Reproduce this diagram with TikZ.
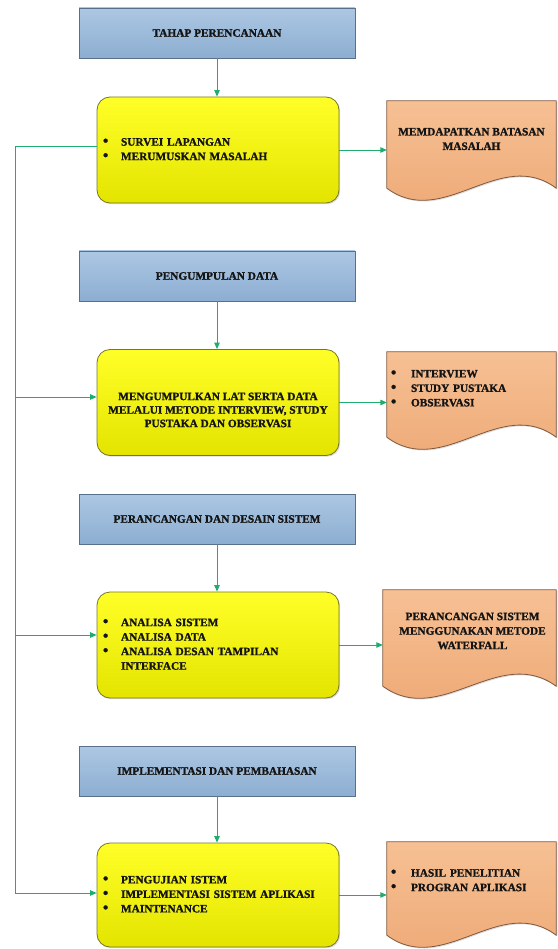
\documentclass[tikz,border=0pt]{standalone}
\usepackage{fontspec}
\setmainfont{Liberation Serif}[BoldFeatures={FakeBold=1.3}]
\usetikzlibrary{arrows.meta,calc,shadows}
\definecolor{conn}{RGB}{32,172,108}
\definecolor{txt}{RGB}{20,20,20}
\definecolor{bluetop}{RGB}{172,199,227}
\definecolor{bluebot}{RGB}{141,174,209}
\definecolor{blueline}{RGB}{88,112,138}
\definecolor{yeltop}{RGB}{255,255,40}
\definecolor{yelbot}{RGB}{228,228,0}
\definecolor{yelline}{RGB}{118,118,40}
\definecolor{ortop}{RGB}{246,192,148}
\definecolor{orbot}{RGB}{237,166,114}
\definecolor{orline}{RGB}{130,88,60}
\newcommand\blist[2]{\begin{tabular}{@{}p{#1}@{}l@{}}#2\end{tabular}}
\newcommand\bul{{\fontsize{15}{14.5}\selectfont\textbullet}}
\newcommand\docoutline[1]{%
  \draw[docshape] (#1.north west) -- (#1.north east) -- (#1.south east)
    .. controls ($(#1.south east)!0.333!(#1.south west)+(0,-42)$)
    and ($(#1.south east)!0.667!(#1.south west)+(0,42)$) .. (#1.south west) -- cycle;}
\tikzset{
  x=1pt, y=-1pt,
  fnt/.style={font=\bfseries\fontsize{11.3}{14.5}\selectfont, text=txt},
  shade/.style={drop shadow={shadow xshift=1.2pt, shadow yshift=-1.2pt, opacity=0.28}},
  phase/.style={fnt, draw=blueline, line width=0.8pt, top color=bluetop, bottom color=bluebot,
    minimum width=276pt, minimum height=50pt, inner sep=0pt, shade},
  activity/.style={fnt, draw=yelline, line width=0.8pt, rounded corners=13pt,
    top color=yeltop, bottom color=yelbot, minimum width=242pt, minimum height=106pt,
    text width=230pt, inner xsep=6pt, inner ysep=0pt, align=left, shade},
  docbox/.style={draw=none, minimum width=169pt, inner sep=0pt},
  docshape/.style={draw=orline, line width=0.8pt, top color=ortop, bottom color=orbot, shade},
  doctext/.style={fnt, inner sep=0pt, align=center},
  line/.style={draw=conn, line width=0.9pt},
  arrow/.style={line, -{Triangle[length=6.5pt,width=5.5pt]}}
}
\begin{document}
\begin{tikzpicture}
\useasboundingbox (0,0) rectangle (557,949);

% phase boxes
\node[phase] (b1) at (217,33) {TAHAP PERENCANAAN};
\node[phase] (b2) at (217,276) {PENGUMPULAN DATA};
\node[phase] (b3) at (217,519) {PERANCANGAN DAN DESAIN SISTEM};
\node[phase] (b4) at (217,771) {IMPLEMENTASI DAN PEMBAHASAN};

% activity boxes
\node[activity] (y1) at (218,150) {\blist{18pt}{\bul & SURVEI LAPANGAN\\ \bul & MERUMUSKAN MASALAH}};
\node[activity] (y2) at (218,402.5) {};
\node[fnt, align=center, inner sep=0pt, font=\bfseries\fontsize{11.3}{13.5}\selectfont] (y2t) at ([yshift=-7.5pt]y2.center)
  {MENGUMPULKAN LAT SERTA DATA\\ MELALUI METODE INTERVIEW, STUDY\\ PUSTAKA DAN OBSERVASI};
\node[activity] (y3) at (218,645) {\blist{18pt}{\bul & ANALISA SISTEM\\ \bul & ANALISA DATA\\ \bul & ANALISA DESAN TAMPILAN\\ & INTERFACE}};
\node[activity, minimum height=104pt] (y4) at (218,895) {\blist{18pt}{\bul & PENGUJIAN ISTEM\\ \bul & IMPLEMENTASI SISTEM APLIKASI\\ \bul & MAINTENANCE}};

% document shapes
\node[docbox, minimum height=87pt] (d1) at (471.5,144.5) {};
\node[docbox, minimum height=85pt] (d2) at (471.5,394.5) {};
\node[docbox, minimum height=96pt, minimum width=173pt] (d3) at (469.5,638) {};
\node[docbox, minimum height=93pt] (d4) at (471.5,888.5) {};
\docoutline{d1}
\docoutline{d2}
\docoutline{d3}
\docoutline{d4}
\node[doctext] (d1t) at ([yshift=5.5pt]d1.center) {MEMDAPATKAN BATASAN\\ MASALAH};
\node[doctext, text width=165pt, align=left] (d2t) at ([xshift=2pt,yshift=5.5pt]d2.center)
  {\blist{20pt}{\bul & INTERVIEW\\ \bul & STUDY PUSTAKA\\ \bul & OBSERVASI}};
\node[doctext] (d3t) at ([xshift=3pt,yshift=7pt]d3.center) {PERANCANGAN SISTEM\\ MENGGUNAKAN METODE\\ WATERFALL};
\node[doctext, text width=165pt, align=left] (d4t) at ([xshift=2pt,yshift=7.5pt]d4.center)
  {\blist{20pt}{\bul & HASIL PENELITIAN\\ \bul & PROGRAN APLIKASI}};

% vertical arrows
\draw[arrow] (b1.south) -- (b1.south |- y1.north);
\draw[arrow] (b2.south) -- (b2.south |- y2.north);
\draw[arrow] (b3.south) -- (b3.south |- y3.north);
\draw[arrow] (b4.south) -- (b4.south |- y4.north);

% output arrows
\draw[arrow] (y1.east) -- (y1.east -| d1.west);
\draw[arrow] (y2.east) -- (y2.east -| d2.west);
\draw[arrow] (y3.east) -- (y3.east -| d3.west);
\draw[arrow] (y4.east) -- (y4.east -| d4.west);

% feedback line
\coordinate (fbtop) at (15,146);
\coordinate (fb2) at (15,397);
\coordinate (fb3) at (15,635);
\coordinate (fbbot) at (15,893);
\draw[line] (fbtop -| y1.west) -- (fbtop) -- (fbbot);
\draw[arrow] (fb2) -- (fb2 -| y2.west);
\draw[arrow] (fb3) -- (fb3 -| y3.west);
\draw[arrow] (fbbot) -- (fbbot -| y4.west);
\end{tikzpicture}
\end{document}
